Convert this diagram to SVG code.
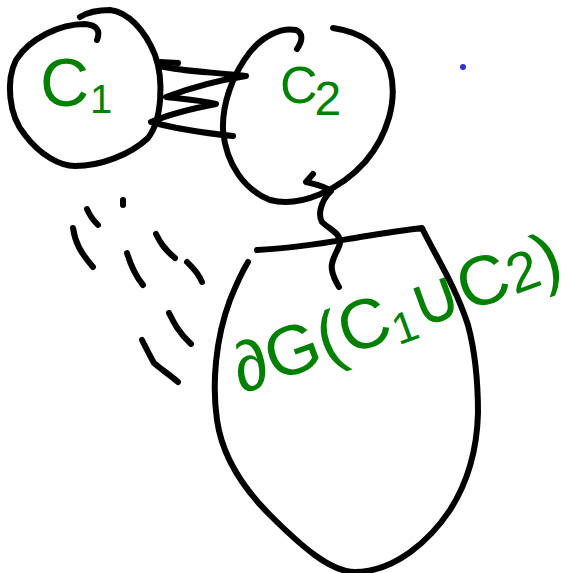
<svg xmlns="http://www.w3.org/2000/svg" width="572" height="573" viewBox="0 0 572 573">
<style>
.s{fill:none;stroke:#000;stroke-width:6;stroke-linecap:round;stroke-linejoin:round}
.t{fill:#008000;font-family:"Liberation Sans","DejaVu Sans",sans-serif}
</style>
<rect width="572" height="573" fill="#fff"/>
<g id="connectors">
<path class="s" d="M160,62 L178,63"/>
<path class="s" d="M160,66 C185,72 215,72 246,76 C220,80 190,88 166,97 C185,99 200,100 216,104 C195,108 170,114 151,122 C180,130 205,133 233,136"/>
<path class="s" d="M313,174 L306,182 C315,184 325,186 331,191 C320,202 318,215 322,222 C330,230 340,232 340,243 C338,252 330,260 332,270 C333,277 336,282 339,287"/>
<path class="s" d="M123,200 L123,205"/>
<path class="s" d="M87,209 C89,214 92,219 98,225"/>
<path class="s" d="M73,228 C75,242 80,252 93,267"/>
<path class="s" d="M127,253 C130,263 134,274 143,285"/>
<path class="s" d="M156,234 C160,242 164,249 175,258"/>
<path class="s" d="M187,262 C192,267 198,272 202,282"/>
<path class="s" d="M169,313 C174,323 179,333 191,344"/>
<path class="s" d="M142,340 C146,348 150,356 154,363 C162,370 170,375 178,382"/>
</g>
<g id="node-c1">
<path class="s" d="M97,40 C101,30 96,25 85,24 C60,24 30,38 16,60 C6,80 8,115 25,135 C40,155 60,166 75,166 C100,166 130,155 148,138 C162,120 164,80 155,55 C145,30 128,12 110,10 C98,10 88,12 80,17"/>
<text class="t" x="40" y="106" font-size="68">C<tspan font-size="40" dy="7" dx="1">1</tspan></text>
</g>
<g id="node-c2">
<path class="s" d="M297,49 C303,40 303,33 296,30 C280,27 262,37 250,52 C232,75 222,105 223,130 C226,165 245,190 270,200 C300,208 340,190 365,162 C388,135 398,100 390,70 C382,45 360,32 333,28"/>
<text class="t" x="280" y="103" font-size="52">C<tspan font-size="48" dy="12" dx="-3">2</tspan></text>
</g>
<g id="node-boundary">
<path class="s" d="M257,250 C300,248 330,242 360,237 C385,233 405,230 422,228 C435,255 455,285 468,325 C476,355 478,385 478,413 C477,450 468,482 450,510 C430,540 395,572 355,572 C330,572 300,545 270,515 C240,485 222,455 217,420 C212,385 215,340 230,300 C236,285 242,272 248,262"/>
<text class="t" font-size="70" transform="translate(242,394) rotate(-20)" textLength="345" lengthAdjust="spacingAndGlyphs">∂G(C<tspan font-size="44" dy="8">1</tspan><tspan dy="-8">∪C</tspan><tspan font-size="56">2</tspan>)</text>
</g>
<circle cx="463" cy="67" r="3" fill="#3333cc"/>
</svg>
